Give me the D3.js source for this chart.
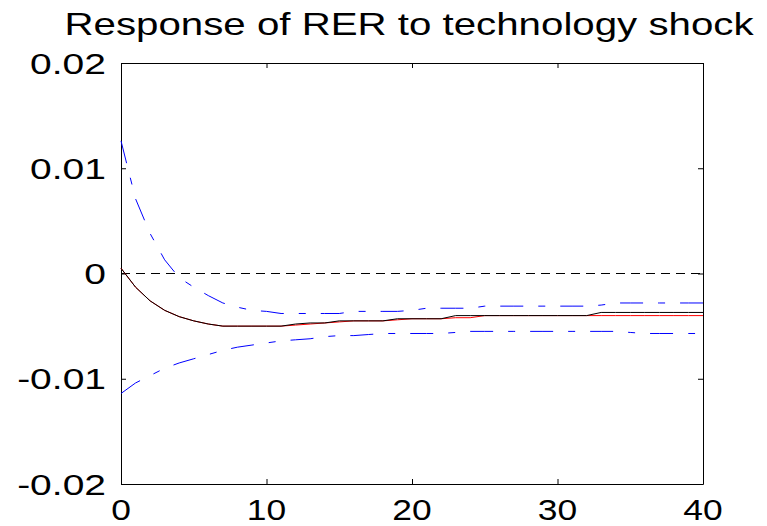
<!DOCTYPE html>
<html>
<head>
<meta charset="utf-8">
<script src="https://cdn.jsdelivr.net/npm/d3@7"></script>
<style>
  html, body { margin: 0; padding: 0; background: #fff; }
  svg { display: block; font-family: "Liberation Sans", Arial, sans-serif; }
</style>
</head>
<body>
<div id="chart"></div>
<script>
// impulse response of RER to a technology shock, horizons 0..40
const horizon = [0, 1, 2, 3, 4, 5, 6, 7, 8, 9, 10, 11, 12, 13, 14, 15, 16, 17, 18, 19, 20,
  21, 22, 23, 24, 25, 26, 27, 28, 29, 30, 31, 32, 33, 34, 35, 36, 37, 38, 39, 40];

const meanResp = [0.0005, -0.0013, -0.0026, -0.0035, -0.0041, -0.0045, -0.0048,
  -0.0050, -0.0050, -0.0050, -0.0050, -0.0050, -0.0048, -0.0047, -0.0047,
  -0.0045, -0.0045, -0.0045, -0.0045, -0.0043, -0.0043, -0.0043, -0.0043,
  -0.0040, -0.0040, -0.0040, -0.0040, -0.0040, -0.0040, -0.0040, -0.0040, -0.0040, -0.0040,
  -0.0037, -0.0037, -0.0037, -0.0037, -0.0037, -0.0037, -0.0037, -0.0037];

const medianResp = [0.0005, -0.0013, -0.0026, -0.0035, -0.0041, -0.0045, -0.0048,
  -0.0050, -0.0050, -0.0050, -0.0050, -0.0050, -0.0049, -0.0048, -0.0047,
  -0.0046, -0.0045, -0.0045, -0.0045, -0.0044, -0.0043, -0.0043, -0.0043,
  -0.0042, -0.0042, -0.0040, -0.0040, -0.0040, -0.0040, -0.0040, -0.0040, -0.0040, -0.0040,
  -0.0040, -0.0040, -0.0040, -0.0040, -0.0040, -0.0040, -0.0040, -0.0040];

const upperBand = [0.0126, 0.0071, 0.0038, 0.0013, -0.0004, -0.0013, -0.0021,
  -0.0028, -0.0032, -0.0035, -0.0036, -0.0038, -0.0038, -0.0038, -0.0038, -0.0038,
  -0.0036, -0.0036, -0.0036, -0.0036, -0.0035, -0.0033, -0.0033, -0.0033, -0.0033,
  -0.0031, -0.0031, -0.0031, -0.0031, -0.0031, -0.0031, -0.0031, -0.0031,
  -0.0030, -0.0028, -0.0028, -0.0028, -0.0028, -0.0028, -0.0028, -0.0028];

const lowerBand = [-0.0114, -0.0104, -0.0097, -0.0090, -0.0085, -0.0081, -0.0077,
  -0.0073, -0.0070, -0.0068, -0.0066, -0.0064, -0.0063, -0.0062, -0.0060, -0.0059,
  -0.0059, -0.0058, -0.0057, -0.0057, -0.0057, -0.0057, -0.0057, -0.0056,
  -0.0055, -0.0055, -0.0055, -0.0055, -0.0055, -0.0055, -0.0055, -0.0055, -0.0055, -0.0055, -0.0055,
  -0.0056, -0.0057, -0.0057, -0.0057, -0.0057, -0.0057];

const xTicks = [0, 10, 20, 30, 40];
const yTicks = [0.02, 0.01, 0, -0.01, -0.02];
const yTickLabels = ["0.02", "0.01", "0", "-0.01", "-0.02"];
const title = "Response of RER to technology shock";

const W = 767, H = 526;
const margin = { top: 63, right: 64, bottom: 42, left: 121 };
const width = W - margin.left - margin.right;
const height = H - margin.top - margin.bottom;

const svg = d3.select("#chart").append("svg")
  .attr("width", W)
  .attr("height", H);

const g = svg.append("g")
  .attr("transform", `translate(${margin.left},${margin.top})`);

const x = d3.scaleLinear().domain([0, 40]).range([0, width]);
const y = d3.scaleLinear().domain([-0.02, 0.02]).range([height, 0]);

// box with inward ticks on all four sides (matlab style)
const axStyle = sel => sel
  .call(s => s.selectAll("path, line").attr("stroke", "#000").attr("stroke-width", 1))
  .call(s => s.selectAll("text").remove());

g.append("g").attr("transform", `translate(0,${height})`)
  .call(d3.axisBottom(x).tickValues(xTicks).tickSizeInner(-5).tickSizeOuter(0))
  .call(axStyle);
g.append("g")
  .call(d3.axisTop(x).tickValues(xTicks).tickSizeInner(-5).tickSizeOuter(0))
  .call(axStyle);
g.append("g")
  .call(d3.axisLeft(y).tickValues(yTicks).tickSizeInner(-5).tickSizeOuter(0))
  .call(axStyle);
g.append("g").attr("transform", `translate(${width},0)`)
  .call(d3.axisRight(y).tickValues(yTicks).tickSizeInner(-5).tickSizeOuter(0))
  .call(axStyle);

// tick labels (stretched wide like the source figure)
yTicks.forEach((v, i) => {
  svg.append("text")
    .attr("transform", `translate(${margin.left - 15},${margin.top + y(v) + 10.5}) scale(1.3,1)`)
    .attr("text-anchor", "end")
    .attr("font-size", "30px")
    .attr("fill", "#000")
    .text(yTickLabels[i]);
});

xTicks.forEach(v => {
  svg.append("text")
    .attr("transform", `translate(${margin.left + x(v)},${margin.top + height + 35.5}) scale(1.18,1)`)
    .attr("text-anchor", "middle")
    .attr("font-size", "30px")
    .attr("fill", "#000")
    .text(v);
});

svg.append("text")
  .attr("transform", `translate(${margin.left + width / 2 - 3},35) scale(1.32,1)`)
  .attr("text-anchor", "middle")
  .attr("font-size", "30.5px")
  .attr("fill", "#000")
  .text(title);

// zero line
g.append("line")
  .attr("x1", x(0)).attr("x2", x(40))
  .attr("y1", y(0)).attr("y2", y(0))
  .attr("stroke", "#000")
  .attr("stroke-width", 1)
  .attr("stroke-dasharray", "9,6");

const line = d3.line()
  .x((d, i) => x(horizon[i]))
  .y(d => y(d));

// bands — blue dash-dot
[upperBand, lowerBand].forEach(band => {
  g.append("path")
    .datum(band)
    .attr("fill", "none")
    .attr("stroke", "#0000ff")
    .attr("stroke-width", 1)
    .attr("stroke-dasharray", "23,15,7,15")
    .attr("d", line);
});

// median (red) under mean (black)
g.append("path")
  .datum(medianResp)
  .attr("fill", "none")
  .attr("stroke", "#ff0000")
  .attr("stroke-width", 1)
  .attr("d", line);

g.append("path")
  .datum(meanResp)
  .attr("fill", "none")
  .attr("stroke", "#000")
  .attr("stroke-width", 1)
  .attr("d", line);
</script>
</body>
</html>
